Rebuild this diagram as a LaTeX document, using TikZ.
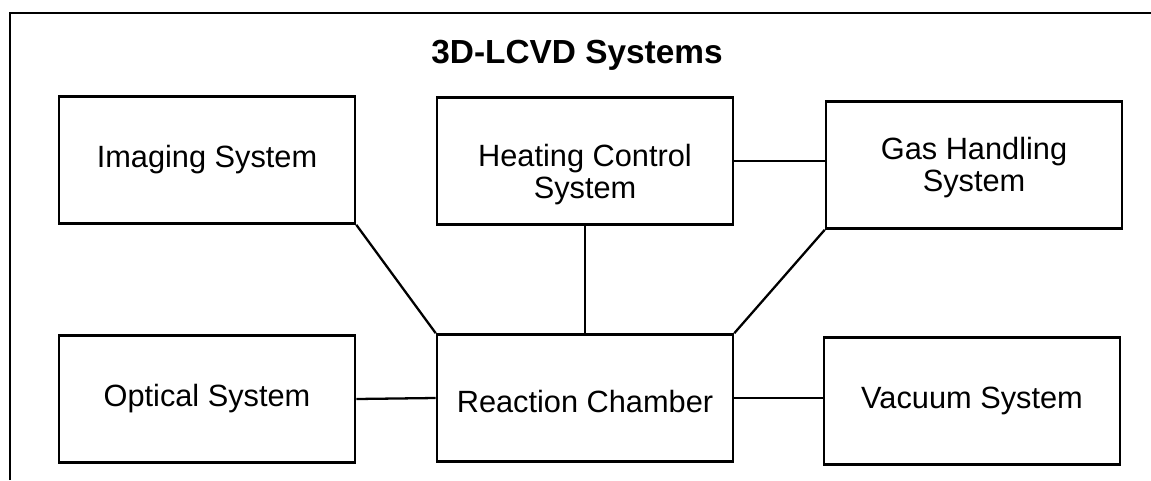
\documentclass[tikz,border=0pt]{standalone}
\usepackage{fontspec}
\setmainfont{Liberation Sans}
\tikzset{
  sysbox/.style={draw, line width=1.5pt, align=center, inner sep=0pt,
    minimum width=5.92cm, minimum height=2.54cm,
    font=\fontsize{17.5}{18.4}\selectfont},
  link/.style={line width=1.3pt}
}

\begin{document}
\begin{tikzpicture}[x=0.02cm, y=-0.02cm]
  \useasboundingbox (0,0) rectangle (1151,480);
  % open frame round the figure (cut at right and bottom)
  \draw[line width=1.2pt] (10,480) -- (10,13) -- (1151,13);
  \node[anchor=base, font=\bfseries\fontsize{19}{22}\selectfont] (title) at (577,63) {3D-LCVD Systems};
  % upper row
  \node[sysbox] (imaging) at (207,160) {Imaging System};
  \node[sysbox] (heating) at (585,161) {\rule{0pt}{28pt}Heating Control\\System};
  \node[sysbox] (gas) at (974,165) {\rule{0pt}{15.3pt}Gas Handling\\System};
  % lower row
  \node[sysbox] (optical) at (207,399) {Optical System};
  \node[sysbox] (reaction) at (585,398) {\rule{0pt}{16.4pt}Reaction Chamber};
  \node[sysbox] (vacuum) at (972,401) {Vacuum System};
  % links to the chamber
  \foreach \a/\b in {imaging.south east/reaction.north west,
                     gas.south west/reaction.north east,
                     optical.east/reaction.west} {
    \draw[link] (\a) -- (\b);
  }
  \draw[link] (heating.south) -- (heating.south |- reaction.north);
  \draw[link] (heating.east) -- (heating.east -| gas.west);
  \draw[link] (reaction.east) -- (reaction.east -| vacuum.west);
\end{tikzpicture}
\end{document}
